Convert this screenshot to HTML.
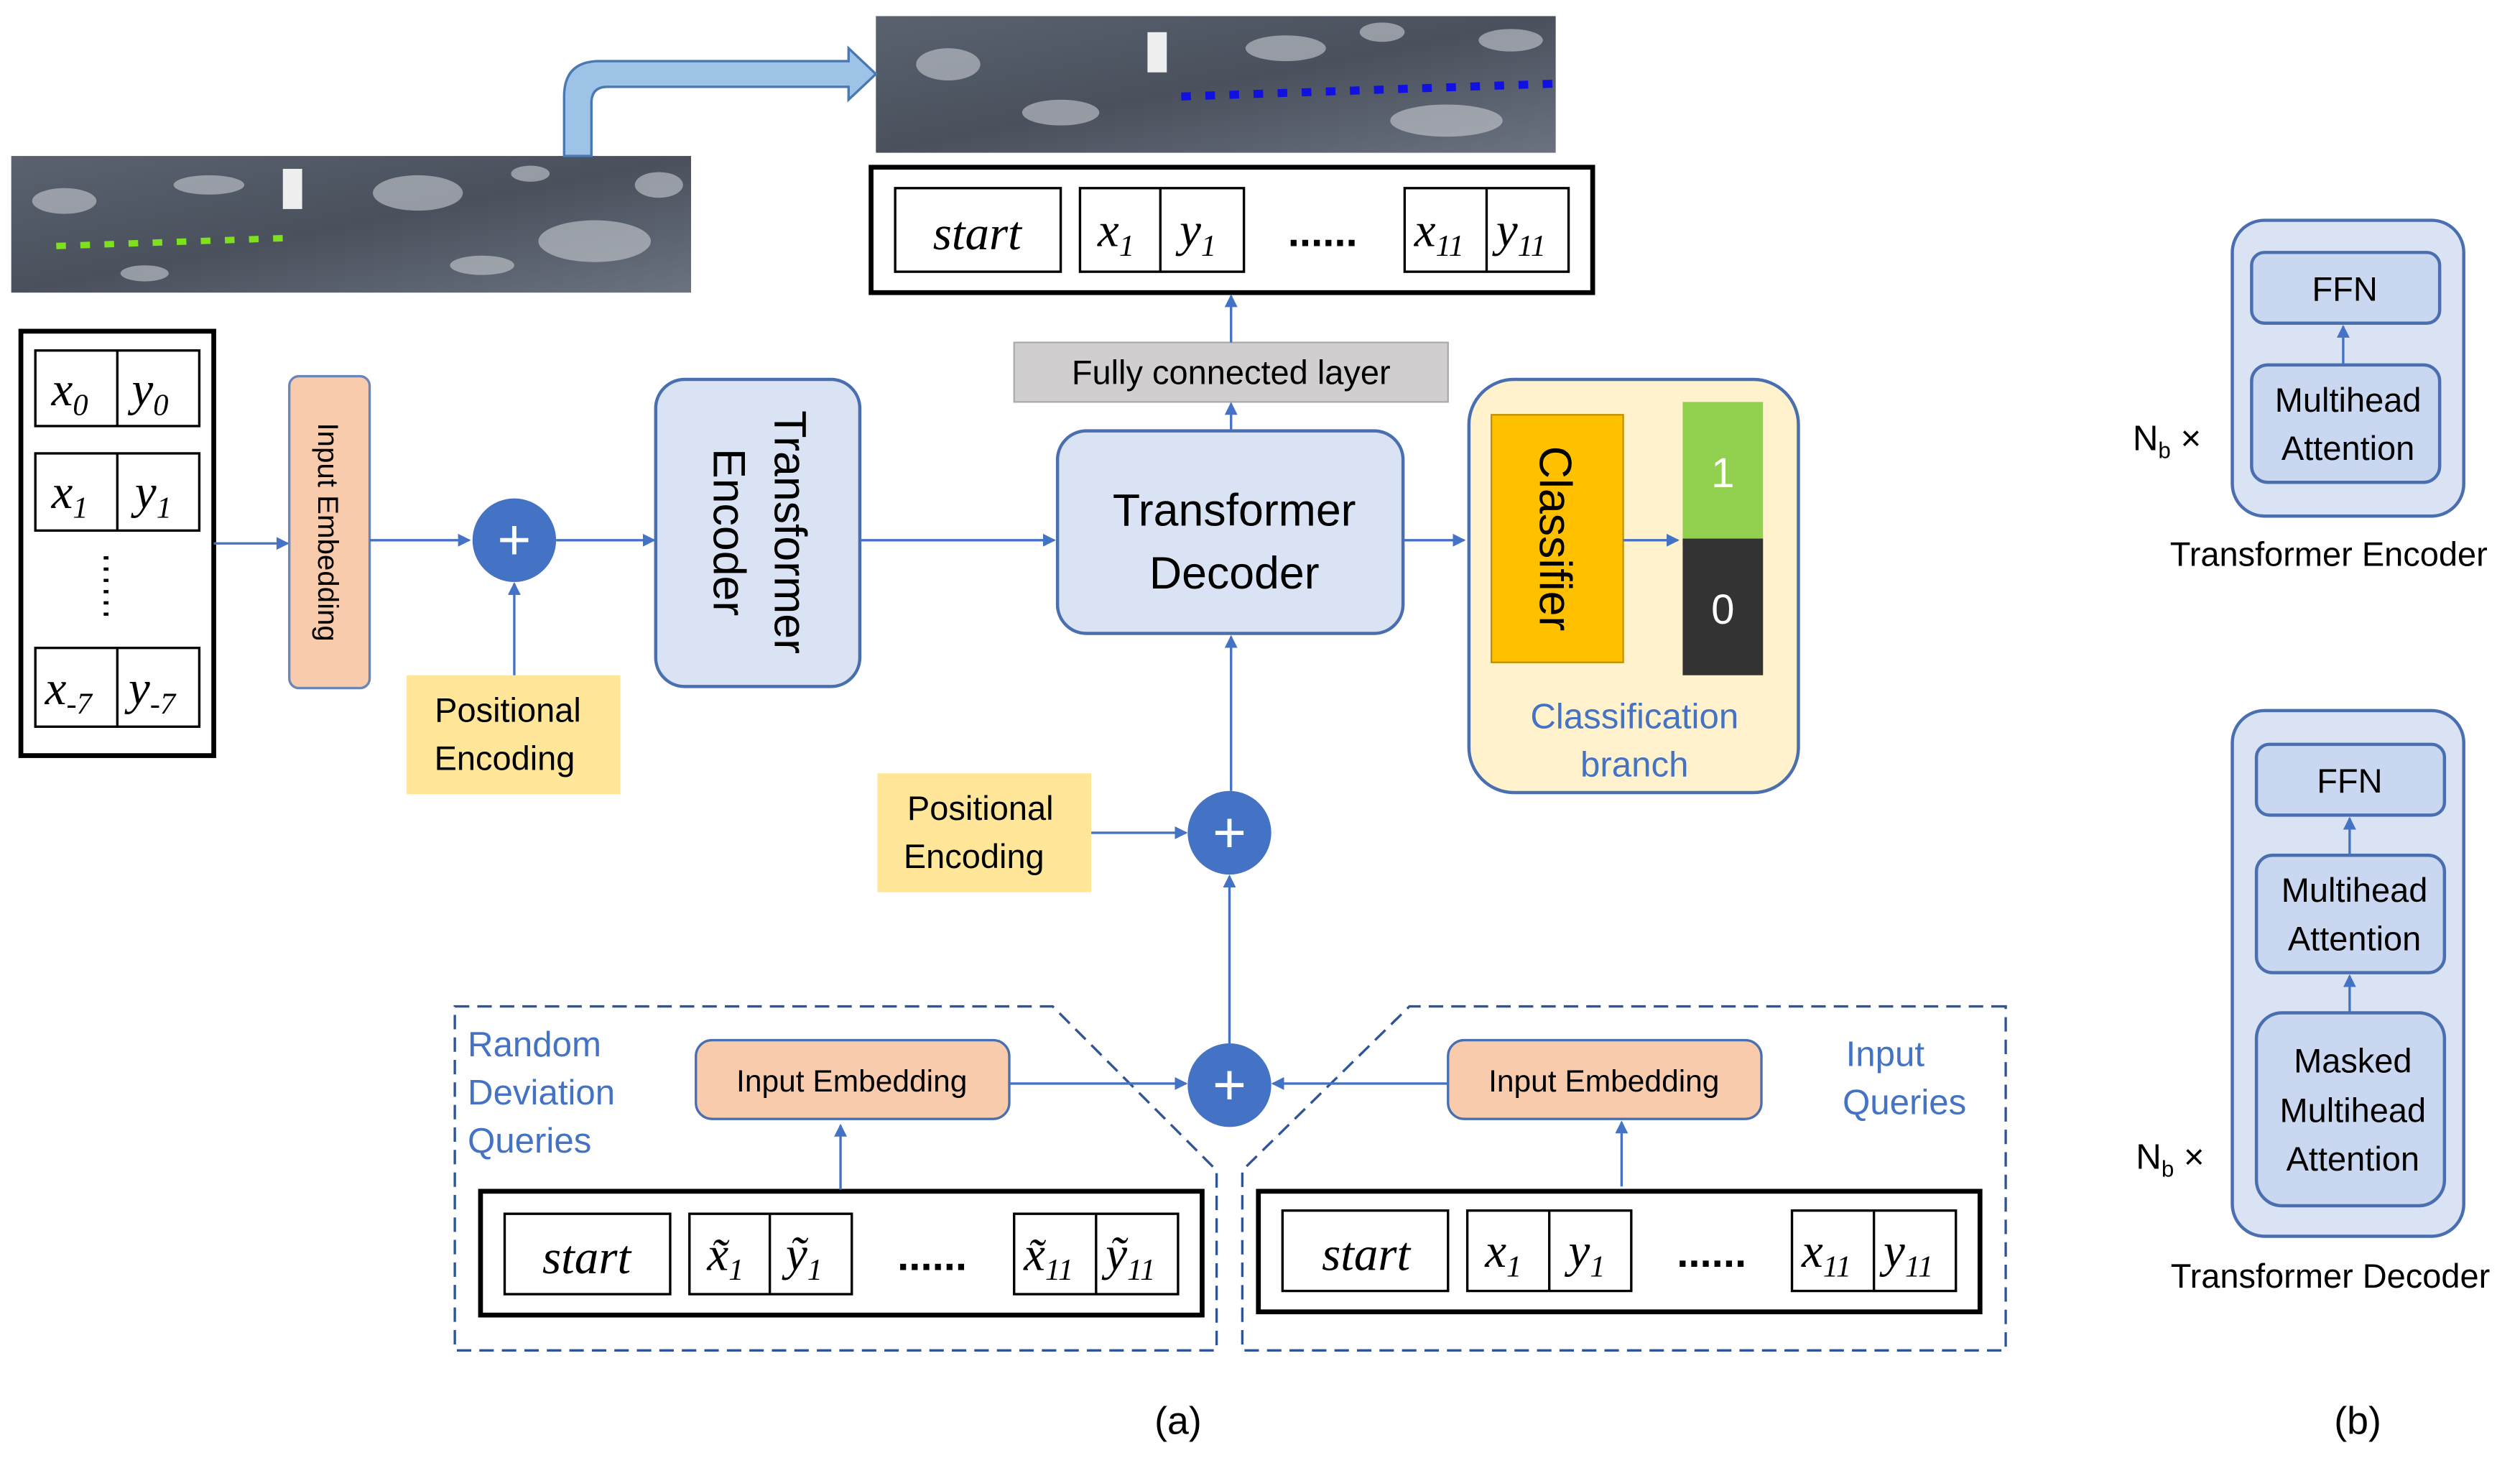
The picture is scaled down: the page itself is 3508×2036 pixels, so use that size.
<!DOCTYPE html>
<html><head><meta charset="utf-8"><style>
html,body{margin:0;padding:0;background:#fff}
svg{display:block}
text{font-family:"Liberation Sans",sans-serif}
.m{font-family:"Liberation Serif",serif;font-style:italic;font-size:30px}
.s{font-size:19px}
.b{fill:#4472c4;font-size:22px}
</style></head><body>
<svg width="3508" height="2036" viewBox="0 0 1568 910" xmlns="http://www.w3.org/2000/svg">
<defs>
<marker id="a" markerWidth="8" markerHeight="8" refX="7" refY="4" orient="auto" markerUnits="userSpaceOnUse"><path d="M0,0 L8,4 L0,8 z" fill="#4472c4"/></marker>
<linearGradient id="ph" x1="0" y1="0" x2="1" y2="1"><stop offset="0" stop-color="#5a6270"/><stop offset="0.5" stop-color="#4a515d"/><stop offset="1" stop-color="#6b7280"/></linearGradient>
</defs>
<!-- photos -->
<rect x="7" y="97" width="423" height="85" fill="url(#ph)"/>
<g fill="#c8ccd2" opacity="0.6"><ellipse cx="40" cy="125" rx="20" ry="8"/><ellipse cx="130" cy="115" rx="22" ry="6"/><ellipse cx="260" cy="120" rx="28" ry="11"/><ellipse cx="370" cy="150" rx="35" ry="13"/><ellipse cx="300" cy="165" rx="20" ry="6"/><ellipse cx="90" cy="170" rx="15" ry="5"/><ellipse cx="410" cy="115" rx="15" ry="8"/><ellipse cx="330" cy="108" rx="12" ry="5"/></g>
<rect x="176" y="105" width="12" height="25" fill="#eee"/>
<line x1="35" y1="153" x2="180" y2="148" stroke="#7fe020" stroke-width="4" stroke-dasharray="6,9"/>
<rect x="545" y="10" width="423" height="85" fill="url(#ph)"/>
<g fill="#c8ccd2" opacity="0.6"><ellipse cx="590" cy="40" rx="20" ry="10"/><ellipse cx="660" cy="70" rx="24" ry="8"/><ellipse cx="800" cy="30" rx="25" ry="8"/><ellipse cx="900" cy="75" rx="35" ry="10"/><ellipse cx="940" cy="25" rx="20" ry="7"/><ellipse cx="860" cy="20" rx="14" ry="6"/></g>
<rect x="714" y="20" width="12" height="25" fill="#eee"/>
<line x1="735" y1="60" x2="968" y2="52" stroke="#1010e0" stroke-width="5" stroke-dasharray="6,9"/>
<!-- big arrow -->
<path d="M351,97 L351,60 Q351,38 373,38 L528,38 L528,30 L545,46 L528,62 L528,54 L378,54 Q368,54 368,64 L368,97 z" fill="#9dc3e6" stroke="#4a78b0" stroke-width="1.5"/>
<!-- left table -->
<rect x="13" y="206" width="120" height="264" fill="#fff" stroke="#000" stroke-width="3"/>
<g fill="#fff" stroke="#000" stroke-width="1.5">
<rect x="22" y="218" width="102" height="47"/><line x1="73" y1="218" x2="73" y2="265"/>
<rect x="22" y="282" width="102" height="48"/><line x1="73" y1="282" x2="73" y2="330"/>
<rect x="22" y="403" width="102" height="49"/><line x1="73" y1="403" x2="73" y2="452"/>
</g>
<text class="m" x="32" y="252">x<tspan class="s" dy="6">0</tspan></text><text class="m" x="82" y="252">y<tspan class="s" dy="6">0</tspan></text>
<text class="m" x="32" y="316">x<tspan class="s" dy="6">1</tspan></text><text class="m" x="84" y="316">y<tspan class="s" dy="6">1</tspan></text>
<text class="m" x="28" y="438">x<tspan class="s" dy="6">-7</tspan></text><text class="m" x="80" y="438">y<tspan class="s" dy="6">-7</tspan></text>
<line x1="66" y1="346" x2="66" y2="386" stroke="#000" stroke-width="3" stroke-dasharray="2,5"/>
<rect x="180" y="234" width="50" height="194" rx="6" fill="#f8cbad" stroke="#6a86b8" stroke-width="1.5"/>
<text x="0" y="0" transform="translate(198,331) rotate(90)" text-anchor="middle" font-size="18">Input Embedding</text>
<circle cx="320" cy="336" r="26" fill="#4472c4"/><text x="320" y="348" text-anchor="middle" font-size="36" fill="#fff">+</text>
<rect x="253" y="420" width="133" height="74" fill="#ffe699"/>
<text x="316" y="449" text-anchor="middle" font-size="21">Positional</text><text x="314" y="479" text-anchor="middle" font-size="21">Encoding</text>
<rect x="408" y="236" width="127" height="191" rx="18" fill="#dae3f3" stroke="#4a6fb0" stroke-width="2"/>
<text transform="translate(482,331) rotate(90)" text-anchor="middle" font-size="28">Transformer</text>
<text transform="translate(444,331) rotate(90)" text-anchor="middle" font-size="28">Encoder</text>
<rect x="658" y="268" width="215" height="126" rx="18" fill="#dae3f3" stroke="#4a6fb0" stroke-width="2"/>
<text x="768" y="327" text-anchor="middle" font-size="28">Transformer</text><text x="768" y="366" text-anchor="middle" font-size="28">Decoder</text>
<rect x="631" y="213" width="270" height="37" fill="#d0cece" stroke="#aaa"/>
<text x="766" y="239" text-anchor="middle" font-size="21">Fully connected layer</text>
<rect x="542" y="104" width="449" height="78" fill="#fff" stroke="#000" stroke-width="3"/>
<g fill="#fff" stroke="#000" stroke-width="1.5">
<rect x="557" y="117" width="103" height="52"/><rect x="672" y="117" width="102" height="52"/><line x1="722" y1="117" x2="722" y2="169"/>
<rect x="874" y="117" width="102" height="52"/><line x1="925" y1="117" x2="925" y2="169"/></g>
<text class="m" x="608" y="155" text-anchor="middle">start</text>
<text class="m" x="683" y="153">x<tspan class="s" dy="6">1</tspan></text><text class="m" x="734" y="153">y<tspan class="s" dy="6">1</tspan></text>
<text x="823" y="153" text-anchor="middle" font-size="26" font-weight="bold">......</text>
<text class="m" x="880" y="153">x<tspan class="s" dy="6">11</tspan></text><text class="m" x="931" y="153">y<tspan class="s" dy="6">11</tspan></text>
<rect x="914" y="236" width="205" height="257" rx="28" fill="#fff2cc" stroke="#4a6fb0" stroke-width="2"/>
<rect x="928" y="258" width="82" height="154" fill="#ffc000" stroke="#c09000"/>
<text transform="translate(958,335) rotate(90)" text-anchor="middle" font-size="28">Classifier</text>
<rect x="1047" y="250" width="50" height="85" fill="#92d050"/><rect x="1047" y="335" width="50" height="85" fill="#333"/>
<text x="1072" y="303" text-anchor="middle" font-size="26" fill="#fff">1</text><text x="1072" y="388" text-anchor="middle" font-size="26" fill="#fff">0</text>
<text class="b" x="1017" y="453" text-anchor="middle">Classification</text><text class="b" x="1017" y="483" text-anchor="middle">branch</text>
<circle cx="765" cy="518" r="26" fill="#4472c4"/><text x="765" y="530" text-anchor="middle" font-size="36" fill="#fff">+</text>
<rect x="546" y="481" width="133" height="74" fill="#ffe699"/>
<text x="610" y="510" text-anchor="middle" font-size="21">Positional</text><text x="606" y="540" text-anchor="middle" font-size="21">Encoding</text>
<circle cx="765" cy="675" r="26" fill="#4472c4"/><text x="765" y="687" text-anchor="middle" font-size="36" fill="#fff">+</text>
<g fill="none" stroke="#2f5597" stroke-width="1.5" stroke-dasharray="9,5">
<path d="M283,626 L655,626 L757,728 L757,840 L283,840 z"/>
<path d="M1248,626 L877,626 L773,728 L773,840 L1248,840 z"/></g>
<text class="b" x="291" y="657">Random</text><text class="b" x="291" y="687">Deviation</text><text class="b" x="291" y="717">Queries</text>
<text class="b" x="1173" y="663" text-anchor="middle">Input</text><text class="b" x="1185" y="693" text-anchor="middle">Queries</text>
<rect x="433" y="647" width="195" height="49" rx="10" fill="#f8cbad" stroke="#4a6fb0" stroke-width="1.5"/>
<text x="530" y="679" text-anchor="middle" font-size="19">Input Embedding</text>
<rect x="901" y="647" width="195" height="49" rx="10" fill="#f8cbad" stroke="#4a6fb0" stroke-width="1.5"/>
<text x="998" y="679" text-anchor="middle" font-size="19">Input Embedding</text>
<rect x="299" y="741" width="449" height="77" fill="#fff" stroke="#000" stroke-width="3"/>
<g fill="#fff" stroke="#000" stroke-width="1.5">
<rect x="314" y="755" width="103" height="50"/><rect x="429" y="755" width="101" height="50"/><line x1="479" y1="755" x2="479" y2="805"/>
<rect x="631" y="755" width="102" height="50"/><line x1="682" y1="755" x2="682" y2="805"/></g>
<text class="m" x="365" y="792" text-anchor="middle">start</text>
<text class="m" x="440" y="790">x̃<tspan class="s" dy="6">1</tspan></text><text class="m" x="489" y="790">ỹ<tspan class="s" dy="6">1</tspan></text>
<text x="580" y="790" text-anchor="middle" font-size="26" font-weight="bold">......</text>
<text class="m" x="637" y="790">x̃<tspan class="s" dy="6">11</tspan></text><text class="m" x="688" y="790">ỹ<tspan class="s" dy="6">11</tspan></text>
<rect x="783" y="741" width="449" height="75" fill="#fff" stroke="#000" stroke-width="3"/>
<g fill="#fff" stroke="#000" stroke-width="1.5">
<rect x="798" y="753" width="103" height="50"/><rect x="913" y="753" width="102" height="50"/><line x1="964" y1="753" x2="964" y2="803"/>
<rect x="1115" y="753" width="102" height="50"/><line x1="1166" y1="753" x2="1166" y2="803"/></g>
<text class="m" x="850" y="790" text-anchor="middle">start</text>
<text class="m" x="924" y="788">x<tspan class="s" dy="6">1</tspan></text><text class="m" x="976" y="788">y<tspan class="s" dy="6">1</tspan></text>
<text x="1065" y="788" text-anchor="middle" font-size="26" font-weight="bold">......</text>
<text class="m" x="1121" y="788">x<tspan class="s" dy="6">11</tspan></text><text class="m" x="1172" y="788">y<tspan class="s" dy="6">11</tspan></text>
<text x="733" y="892" text-anchor="middle" font-size="24">(a)</text>
<text x="1467" y="892" text-anchor="middle" font-size="24">(b)</text>
<rect x="1389" y="137" width="144" height="184" rx="20" fill="#dae3f3" stroke="#4a6fb0" stroke-width="2"/>
<rect x="1401" y="157" width="117" height="44" rx="8" fill="#c9d8f0" stroke="#4a6fb0" stroke-width="2"/>
<text x="1459" y="187" text-anchor="middle" font-size="21">FFN</text>
<rect x="1401" y="227" width="117" height="73" rx="10" fill="#c9d8f0" stroke="#4a6fb0" stroke-width="2"/>
<text x="1461" y="256" text-anchor="middle" font-size="21">Multihead</text><text x="1461" y="286" text-anchor="middle" font-size="21">Attention</text>
<text x="1327" y="280" font-family="Liberation Serif" font-size="22">N<tspan font-size="14" dy="5">b</tspan><tspan dy="-5"> ×</tspan></text>
<text x="1449" y="352" text-anchor="middle" font-size="21">Transformer Encoder</text>
<rect x="1389" y="442" width="144" height="327" rx="20" fill="#dae3f3" stroke="#4a6fb0" stroke-width="2"/>
<rect x="1404" y="463" width="117" height="44" rx="8" fill="#c9d8f0" stroke="#4a6fb0" stroke-width="2"/>
<text x="1462" y="493" text-anchor="middle" font-size="21">FFN</text>
<rect x="1404" y="532" width="117" height="73" rx="10" fill="#c9d8f0" stroke="#4a6fb0" stroke-width="2"/>
<text x="1465" y="561" text-anchor="middle" font-size="21">Multihead</text><text x="1465" y="591" text-anchor="middle" font-size="21">Attention</text>
<rect x="1404" y="630" width="117" height="120" rx="16" fill="#c9d8f0" stroke="#4a6fb0" stroke-width="2"/>
<text x="1464" y="667" text-anchor="middle" font-size="21">Masked</text><text x="1464" y="698" text-anchor="middle" font-size="21">Multihead</text><text x="1464" y="728" text-anchor="middle" font-size="21">Attention</text>
<text x="1329" y="727" font-family="Liberation Serif" font-size="22">N<tspan font-size="14" dy="5">b</tspan><tspan dy="-5"> ×</tspan></text>
<text x="1450" y="801" text-anchor="middle" font-size="21">Transformer Decoder</text>
<!-- arrows on top -->
<g stroke="#4472c4" stroke-width="1.5" fill="none" marker-end="url(#a)">
<line x1="133" y1="338" x2="179" y2="338"/>
<line x1="230" y1="336" x2="292" y2="336"/>
<line x1="320" y1="420" x2="320" y2="363"/>
<line x1="346" y1="336" x2="407" y2="336"/>
<line x1="535" y1="336" x2="656" y2="336"/>
<line x1="766" y1="268" x2="766" y2="251"/>
<line x1="766" y1="213" x2="766" y2="184"/>
<line x1="873" y1="336" x2="911" y2="336"/>
<line x1="1010" y1="336" x2="1044" y2="336"/>
<line x1="766" y1="492" x2="766" y2="396"/>
<line x1="679" y1="518" x2="738" y2="518"/>
<line x1="765" y1="649" x2="765" y2="545"/>
<line x1="628" y1="674" x2="738" y2="674"/>
<line x1="901" y1="674" x2="792" y2="674"/>
<line x1="523" y1="740" x2="523" y2="700"/>
<line x1="1009" y1="738" x2="1009" y2="698"/>
<line x1="1458" y1="227" x2="1458" y2="203"/>
<line x1="1462" y1="532" x2="1462" y2="509"/>
<line x1="1462" y1="630" x2="1462" y2="607"/>
</g>
</svg>
</body></html>
